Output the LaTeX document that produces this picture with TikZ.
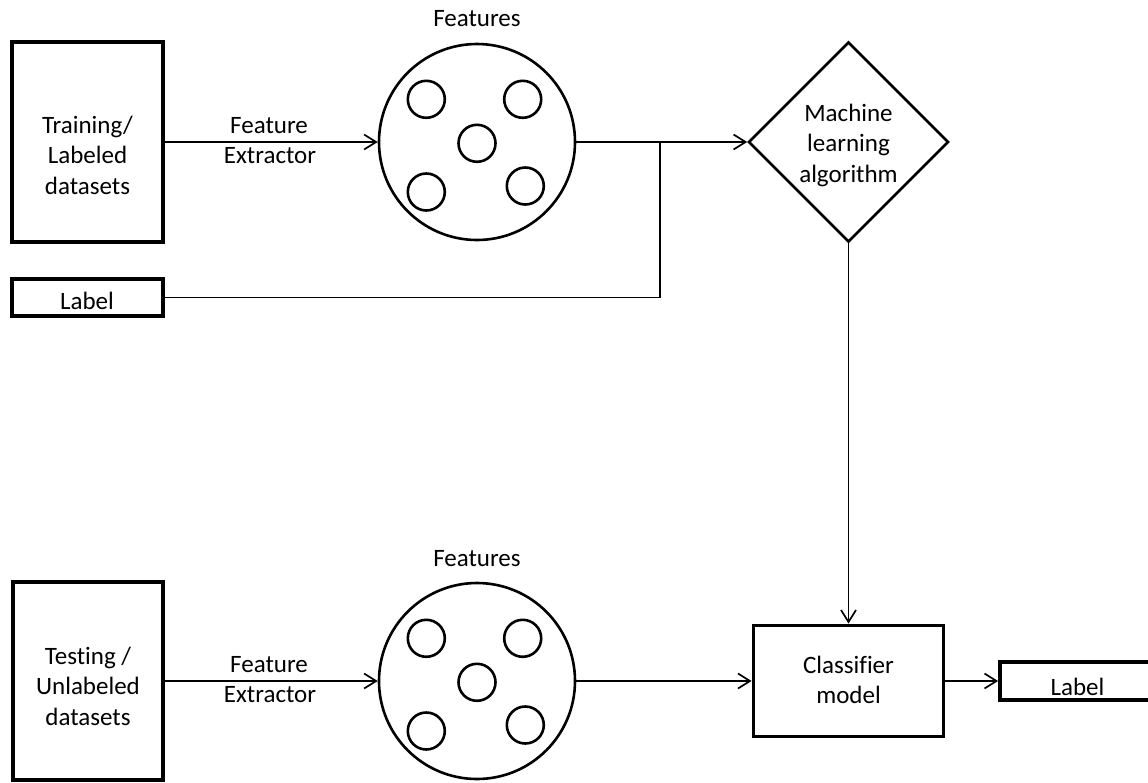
\documentclass[tikz,border=0pt]{standalone}
\usepackage{fontspec}
\setmainfont{Carlito}[Ligatures=CommonOff]
\usetikzlibrary{shapes.geometric,arrows.meta}
\begin{document}
\begin{tikzpicture}[x=1pt,y=-1pt,
  every node/.style={font=\fontsize{25}{30.5}\selectfont},
  databox/.style={draw, line width=3.8pt, inner sep=0pt},
  featcircle/.style={circle, draw, line width=2.6pt, minimum size=196pt, inner sep=0pt},
  featdot/.style={circle, draw, line width=2.6pt, minimum size=37pt, inner sep=0pt},
  conn/.style={line width=1.7pt, -{Straight Barb[length=12pt,width=15pt]}},
  plain/.style={line width=1.7pt},
  txt/.style={align=center, inner sep=0pt}
]
\useasboundingbox (0,0) rectangle (1148,782);

% ---- training branch ----
\node[databox, minimum width=151pt, minimum height=200pt] (train) at (87.5,142) {};
\node[txt] (trainT) at (87.5,155) {Training/\\Labeled\\datasets};

\node[databox, minimum width=151pt, minimum height=37pt] (lab1) at (87.5,297.5) {};
\node[txt, anchor=base] (lab1T) at (87,309) {Label};

\node[featcircle] (feat1) at (477,142) {};
\node[featdot] (f1a) at (426.3,99.3) {};
\node[featdot] (f1b) at (522.7,99.3) {};
\node[featdot] (f1c) at (477,143.3) {};
\node[featdot] (f1d) at (426.3,192) {};
\node[featdot] (f1e) at (525.3,186) {};
\node[txt, anchor=base] (feat1T) at (477,26) {Features};

\node[diamond, draw, line width=2.6pt, minimum width=200pt, minimum height=200pt,
      inner sep=0pt, shape aspect=1] (ml) at (848.5,142) {};
\node[txt] (mlT) at (848.5,145) {Machine\\learning\\algorithm};

\node[anchor=base] (fe1a) at (269,133) {Feature};
\node[anchor=base] (fe1b) at (270,163) {Extractor};

\coordinate (j) at (660,142);

\draw[conn] (train) -- (feat1);
\draw[conn] (feat1) -- (ml);
\draw[plain] (lab1.east) -| (j);

% ---- testing branch ----
\node[databox, minimum width=150pt, minimum height=198pt] (test) at (88,681) {};
\node[txt] (testT) at (88,686) {Testing /\\Unlabeled\\datasets};

\node[featcircle] (feat2) at (477,681) {};
\node[featdot] (f2a) at (426.3,638.3) {};
\node[featdot] (f2b) at (522.7,638.3) {};
\node[featdot] (f2c) at (477,682.3) {};
\node[featdot] (f2d) at (426.3,731) {};
\node[featdot] (f2e) at (525.3,725) {};
\node[txt, anchor=base] (feat2T) at (477,566) {Features};

\node[anchor=base] (fe2a) at (269,672) {Feature};
\node[anchor=base] (fe2b) at (270,702) {Extractor};

\node[databox, minimum width=190pt, minimum height=111pt] (cls) at (848.5,681) {};
\node[txt] (clsT) at (848.5,680) {Classifier\\model};

% the output label box runs past the right margin
\node[databox, minimum width=160pt, minimum height=38pt] (lab2) at (1080,681) {};
\node[txt, anchor=base] (lab2T) at (1077.5,695) {Label};

\draw[conn] (test) -- (feat2);
\draw[conn] (feat2) -- (cls);
\draw[conn] (ml.south) -- (cls.north);
\draw[conn] (cls) -- (lab2);
\end{tikzpicture}
\end{document}
